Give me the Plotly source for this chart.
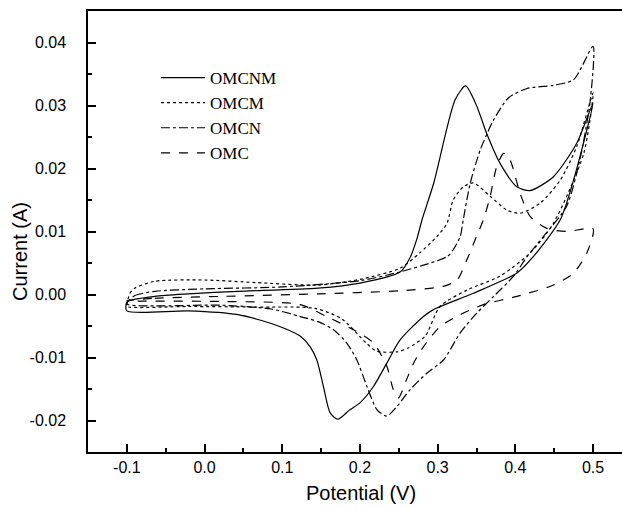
import plotly.graph_objects as go

# ---- data (potential V, current A), forward sweep then reverse sweep ----
omcnm_x = [-0.1, -0.064, -0.021, 0.043, 0.146, 0.2, 0.252, 0.265, 0.273, 0.280, 0.295, 0.3225, 0.336, 0.35, 0.363, 0.380, 0.402, 0.419, 0.449, 0.479, 0.5,
           0.475, 0.458, 0.423, 0.402, 0.346, 0.2946, 0.2817, 0.2517, 0.2346, 0.2174, 0.200, 0.187, 0.1715, 0.1617, 0.153, 0.1445, 0.136, 0.123, 0.0905, 0.043, -0.021, -0.1, -0.1]
omcnm_y = [-0.0012, -0.0003, 0.0001, 0.0005, 0.0010, 0.0018, 0.0036, 0.0060, 0.0087, 0.0119, 0.0177, 0.0309, 0.0331, 0.0300, 0.0256, 0.0209, 0.0171, 0.0165, 0.0187, 0.0240, 0.0304,
           0.0182, 0.0119, 0.0060, 0.0034, 0.0002, -0.0024, -0.0035, -0.0072, -0.0109, -0.0146, -0.0172, -0.0183, -0.0198, -0.0188, -0.0146, -0.0104, -0.0083, -0.0066, -0.0048, -0.0032, -0.0026, -0.0026, -0.0012]

omcm_x = [-0.1, -0.096, -0.09, -0.064, 0.0, 0.065, 0.146, 0.2, 0.252, 0.277, 0.299, 0.312, 0.320, 0.333, 0.346, 0.3676, 0.389, 0.406, 0.432, 0.458, 0.479, 0.5,
          0.488, 0.449, 0.419, 0.380, 0.3376, 0.303, 0.284, 0.262, 0.248, 0.2216, 0.208, 0.177, 0.142, 0.065, -0.021, -0.1, -0.1]
omcm_y = [-0.0015, 0.0002, 0.0010, 0.0021, 0.0023, 0.0019, 0.0015, 0.0024, 0.0042, 0.0066, 0.0092, 0.0113, 0.0150, 0.0171, 0.0177, 0.0156, 0.0134, 0.0129, 0.0145, 0.0182, 0.0235, 0.0320,
          0.0224, 0.0113, 0.0066, 0.0029, 0.0007, -0.0019, -0.0066, -0.0085, -0.0091, -0.0090, -0.0077, -0.0039, -0.0022, -0.0020, -0.0019, -0.0019, -0.0015]

omcn_x = [-0.1, -0.09, -0.064, 0.0, 0.1, 0.2, 0.252, 0.312, 0.320, 0.329, 0.333, 0.342, 0.355, 0.372, 0.391, 0.415, 0.449, 0.475, 0.5,
          0.496, 0.483, 0.466, 0.436, 0.415, 0.3976, 0.372, 0.350, 0.329, 0.3075, 0.286, 0.2646, 0.2475, 0.2346, 0.222, 0.209, 0.196, 0.183, 0.166, 0.146, 0.123, 0.086, 0.022, -0.1]
omcn_y = [-0.0015, -0.0002, 0.0005, 0.0009, 0.0012, 0.0022, 0.0036, 0.0060, 0.0071, 0.0092, 0.0119, 0.0177, 0.0230, 0.0277, 0.0312, 0.0327, 0.0332, 0.0341, 0.0394,
          0.0304, 0.0214, 0.0140, 0.0092, 0.0060, 0.0029, -0.0003, -0.0030, -0.0061, -0.0104, -0.0125, -0.0151, -0.0178, -0.0193, -0.0183, -0.0146, -0.0104, -0.0077, -0.0056, -0.0043, -0.0035, -0.0023, -0.0017, -0.0015]

omc_x = [-0.1, -0.064, 0.022, 0.146, 0.252, 0.3075, 0.325, 0.3376, 0.350, 0.359, 0.3676, 0.376, 0.385, 0.393, 0.406, 0.419, 0.4405, 0.466, 0.5,
         0.492, 0.475, 0.449, 0.402, 0.359, 0.329, 0.303, 0.2817, 0.269, 0.260, 0.2496, 0.243, 0.2346, 0.2174, 0.1917, 0.157, 0.123, 0.022, -0.1]
omc_y = [-0.0010, -0.0006, -0.0003, 0.0001, 0.0006, 0.0013, 0.0023, 0.0055, 0.0092, 0.0119, 0.0156, 0.0203, 0.0224, 0.0214, 0.0161, 0.0124, 0.0105, 0.0100, 0.0104,
         0.0066, 0.0034, 0.0015, -0.0003, -0.0016, -0.0032, -0.0051, -0.0083, -0.0109, -0.0135, -0.0164, -0.0151, -0.0114, -0.0077, -0.0056, -0.0035, -0.0016, -0.0011, -0.0010]

names = ["OMCNM", "OMCM", "OMCN", "OMC"]
dashes = ["solid", "dot", "dashdot", "dash"]
xs = [omcnm_x, omcm_x, omcn_x, omc_x]
ys = [omcnm_y, omcm_y, omcn_y, omc_y]

x_ticks = [-0.1, 0.0, 0.1, 0.2, 0.3, 0.4, 0.5]
y_ticks = [-0.02, -0.01, 0.0, 0.01, 0.02, 0.03, 0.04]
x_title = "Potential (V)"
y_title = "Current (A)"

fig = go.Figure()
for i in range(4):
    fig.add_trace(go.Scatter(
        x=xs[i], y=ys[i], mode="lines", name=names[i], legendgroup=names[i],
        line=dict(color="black", width=1.2, dash=dashes[i], shape="spline", smoothing=0.7),
    ))

W, H = 622, 509
ml, mr, mt, mb = 88, 0, 11, 57
pw, ph = W - ml - mr, H - mt - mb
fig.update_layout(
    width=W, height=H,
    margin=dict(l=ml, r=mr, t=mt, b=mb),
    paper_bgcolor="white", plot_bgcolor="white",
    font=dict(family="Arial, Liberation Sans", size=16, color="black"),
    legend=dict(
        x=(156 - ml) / pw, y=1 - (60 - mt) / ph,
        xanchor="left", yanchor="top",
        font=dict(family="Times New Roman, Liberation Serif", size=17, color="black"),
        bgcolor="rgba(0,0,0,0)", tracegroupgap=0, itemwidth=44,
    ),
    showlegend=True,
    annotations=[
        dict(text=x_title, xref="paper", yref="paper", x=(360.5 - ml) / pw, y=1 - (493 - mt) / ph,
             xanchor="center", yanchor="middle", showarrow=False, font=dict(size=20)),
        dict(text=y_title, xref="paper", yref="paper", x=(20 - ml) / pw, y=1 - (252 - mt) / ph,
             xanchor="center", yanchor="middle", showarrow=False, textangle=-90, font=dict(size=20)),
    ],
)
fig.update_xaxes(
    range=[-0.15, -0.15 + pw / 777.0],
    tickvals=x_ticks, ticktext=[f"{v:.1f}" for v in x_ticks],
    ticks="inside", ticklen=8, tickwidth=1.5, tickcolor="black",
    minor=dict(dtick=0.05, tick0=0, ticks="inside", ticklen=4, tickwidth=1.5, tickcolor="black"),
    showline=True, linecolor="black", linewidth=1.5, mirror=True,
    showgrid=False, zeroline=False,
    tickfont=dict(size=16),
)
fig.update_yaxes(
    range=[-0.025, 0.045],
    tickvals=y_ticks, ticktext=[f"{v:.2f}" for v in y_ticks],
    ticks="inside", ticklen=8, tickwidth=1.5, tickcolor="black",
    minor=dict(dtick=0.005, tick0=0, ticks="inside", ticklen=4, tickwidth=1.5, tickcolor="black"),
    showline=True, linecolor="black", linewidth=1.5, mirror=False,
    showgrid=False, zeroline=False,
    ticklabelstandoff=17,
    tickfont=dict(size=16),
)

fig.write_html("out.html")
